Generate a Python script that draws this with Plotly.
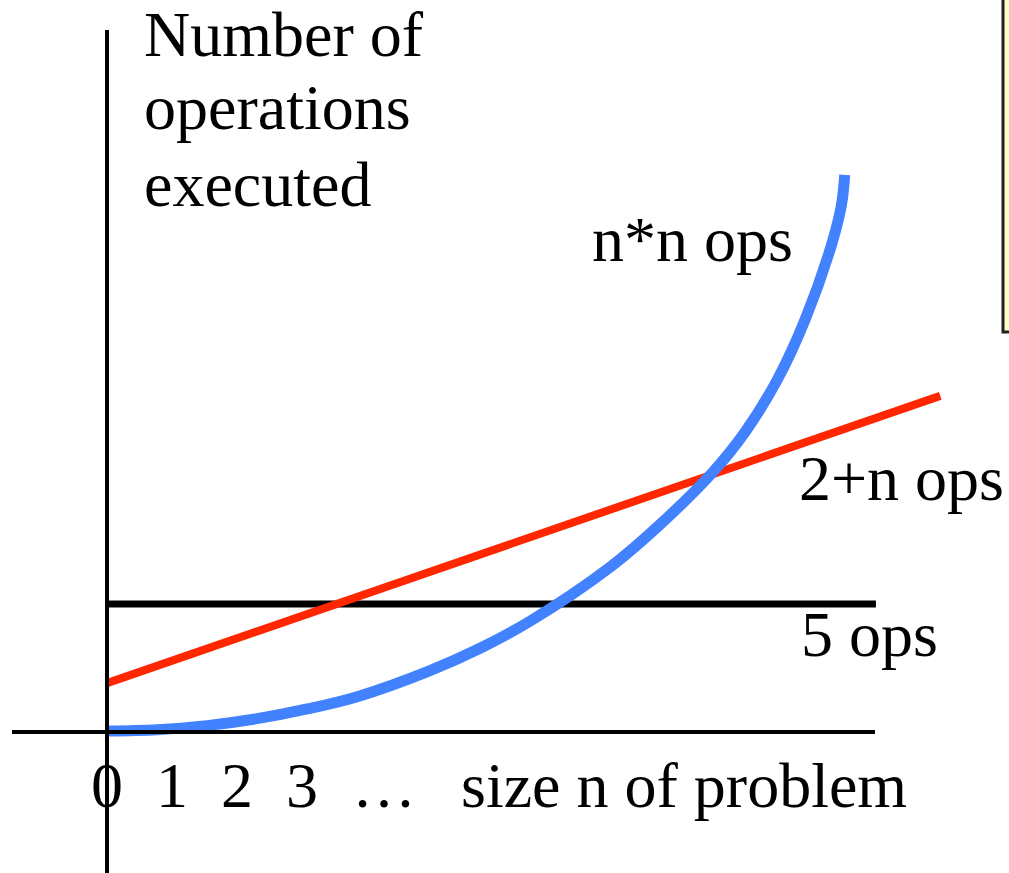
import plotly.graph_objects as go

# pixel -> data scale used to read values off the picture
PX_PER_N = 65.0
PX_PER_OP = 25.6
ORIGIN_X, ORIGIN_Y = 107, 732
W, H = 1009, 873

# n*n ops (blue curve)
QUAD_N = [0.0, 0.77, 1.54, 2.31, 3.08, 3.85, 4.97, 5.74, 6.51, 7.74,
          8.51, 9.31, 9.82, 10.31, 10.74, 11.15, 11.30, 11.35]
QUAD_OPS = [0.04, 0.09, 0.25, 0.52, 0.90, 1.38, 2.40, 3.27, 4.33, 6.44,
            8.11, 10.12, 11.73, 13.75, 16.11, 19.06, 20.6, 21.76]

# 2+n ops (red line)
LIN_N = [0.0, 12.82]
LIN_OPS = [1.91, 13.13]

# 5 ops (black line)
CONST_N = [0.0, 11.83]
CONST_OPS = [5.0, 5.0]

TICK_N = [0, 1, 2, 3, 4.26]
TICK_LABELS = ["0", "1", "2", "3", "…"]

FONT = dict(family="Liberation Serif, Times New Roman, serif", size=64, color="black")


def px(x, y):
    """像素坐标 -> 数据坐标"""
    return (x - ORIGIN_X) / PX_PER_N, (ORIGIN_Y - y) / PX_PER_OP


fig = go.Figure()

# 坐标轴线
x0, _ = px(12, 0)
x1, _ = px(875, 0)
_, ytop = px(0, 30)
_, ybot = px(0, 880)
fig.add_shape(type="line", x0=x0, x1=x1, y0=0, y1=0, line=dict(color="black", width=4))
fig.add_shape(type="line", x0=0, x1=0, y0=ybot, y1=ytop, line=dict(color="black", width=4))

fig.add_trace(go.Scatter(x=CONST_N, y=CONST_OPS, mode="lines",
                         line=dict(color="black", width=7)))
fig.add_trace(go.Scatter(x=LIN_N, y=LIN_OPS, mode="lines",
                         line=dict(color="#FF2600", width=8)))
fig.add_trace(go.Scatter(x=QUAD_N, y=QUAD_OPS, mode="lines",
                         line=dict(color="#4282FF", width=11, shape="spline", smoothing=1.0)))

# 右上角的便签框
fig.add_shape(type="rect", xref="paper", yref="paper",
              x0=1003 / W, x1=1.05, y0=1 - 332 / H, y1=1.05,
              fillcolor="#FFFFCC", line=dict(color="#222222", width=3))


def label(text, x, y, anchor="left"):
    ax, ay = px(x, y)
    fig.add_annotation(x=ax, y=ay, text=text, showarrow=False, font=FONT,
                       xanchor=anchor, yanchor="middle", borderpad=0)


label("Number of", 143, 34)
label("operations", 143, 107)
label("executed", 143, 184)
label("n*n ops", 591, 239)
label("2+n ops", 798, 478)
label("5 ops", 800, 634)
label("size n of problem", 460, 785)

for n, t in zip(TICK_N, TICK_LABELS):
    fig.add_annotation(x=n, y=px(0, 785)[1], text=t, showarrow=False, font=FONT,
                       xanchor="center", yanchor="middle", borderpad=0)

fig.update_layout(
    width=W, height=H,
    margin=dict(l=0, r=0, t=0, b=0),
    showlegend=False,
    paper_bgcolor="white",
    plot_bgcolor="white",
    xaxis=dict(range=[px(0, 0)[0], px(W, 0)[0]], visible=False, fixedrange=True),
    yaxis=dict(range=[px(0, H)[1], px(0, 0)[1]], visible=False, fixedrange=True),
)

fig.write_html("out.html", config={"displayModeBar": False},
               post_script="document.body.style.margin='0';")
